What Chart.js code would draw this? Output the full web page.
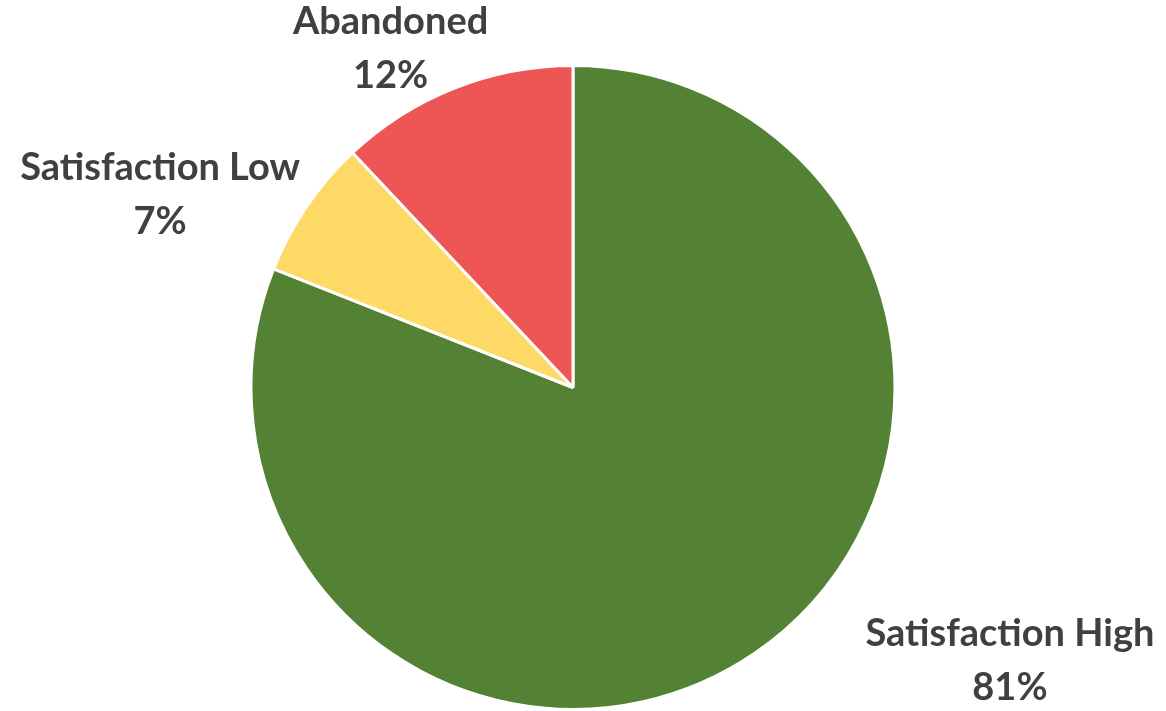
<!DOCTYPE html>
<html>
<head>
<meta charset="utf-8">
<script src="https://cdn.jsdelivr.net/npm/chart.js@4.4.1/dist/chart.umd.min.js"></script>
<style>
  html, body { margin: 0; padding: 0; background: #fff; }
  #wrap { width: 1166px; height: 711px; position: relative; }
</style>
</head>
<body>
<div id="wrap"><canvas id="chart-pie"></canvas></div>
<script>
const CATEGORIES = ['Satisfaction High', 'Satisfaction Low', 'Abandoned'];
const SHARES     = [81, 7, 12];
const COLORS     = ['#548235', '#FFD966', '#EE5555'];

// where each label sits: angle (deg, clockwise from top) and distance in radii
const LABEL_POS = [
  { angle: 122,   dist: 1.6 },
  { angle: 295,   dist: 1.415 },
  { angle: 331.7, dist: 1.195 },
];

const LABEL_FONT = 'bold 38px Lato, "Open Sans", sans-serif';
const LABEL_LINE = 54;

const outsideLabels = {
  id: 'outsideLabels',
  afterDatasetsDraw(chart) {
    const ctx  = chart.ctx;
    const arcs = chart.getDatasetMeta(0).data;
    if (!arcs.length) return;
    const { x, y, outerRadius } = arcs[0];
    ctx.save();
    ctx.font = LABEL_FONT;
    ctx.fillStyle = '#404040';
    ctx.textAlign = 'center';
    ctx.textBaseline = 'middle';
    CATEGORIES.forEach((name, i) => {
      const a  = LABEL_POS[i].angle * Math.PI / 180;
      const lx = x + Math.sin(a) * outerRadius * LABEL_POS[i].dist;
      const ly = y - Math.cos(a) * outerRadius * LABEL_POS[i].dist;
      ctx.fillText(name, lx, ly - LABEL_LINE / 2);
      ctx.fillText(SHARES[i] + '%', lx, ly + LABEL_LINE / 2);
    });
    ctx.restore();
  },
};

new Chart(document.getElementById('chart-pie').getContext('2d'), {
  type: 'pie',
  data: {
    labels: CATEGORIES,
    datasets: [{
      data: SHARES,
      backgroundColor: COLORS,
      borderColor: '#ffffff',
      borderWidth: 3,
    }],
  },
  options: {
    responsive: true,
    maintainAspectRatio: false,
    animation: false,
    layout: { padding: { left: 246, right: 266, top: 64, bottom: -7 } },
    plugins: {
      legend: { display: false },
      tooltip: { enabled: false },
    },
  },
  plugins: [outsideLabels],
});
</script>
</body>
</html>
